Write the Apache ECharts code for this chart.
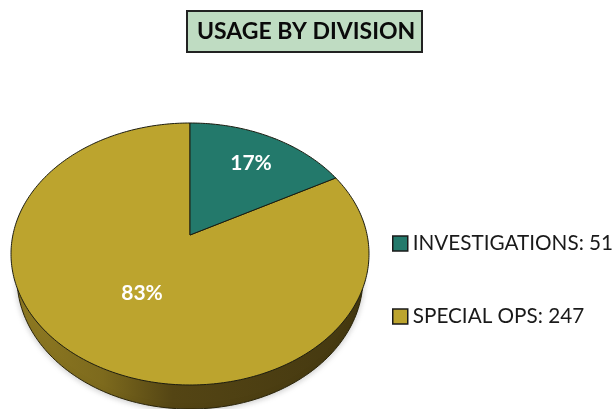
<!DOCTYPE html>
<html><head><meta charset="utf-8">
<style>html,body{margin:0;padding:0;background:#fff}#c{width:615px;height:409px}</style>
<script src="https://cdn.jsdelivr.net/npm/echarts@6/dist/echarts.min.js"></script>
</head><body><div id="c"></div>
<script>
const titleText = 'USAGE BY DIVISION';
const categories = ['INVESTIGATIONS', 'SPECIAL OPS'];
const values = [51, 247];
const colors = ['#23796B', '#BCA42E'];

const total = values.reduce((a, b) => a + b, 0);
const FONT = 'Lato, "Open Sans", sans-serif';
const cx = 190, cy = 254, rx = 179, ry = 131, tilt = -0.145, depth = 24;

// project a pie angle (radians clockwise from top) on to the tilted face
function project(theta) {
  const u = Math.sin(theta), v = -Math.cos(theta);
  const d = 1 + tilt * v;
  return [cx + rx * u * Math.sqrt(1 - tilt * tilt) / d, cy + ry * (v + tilt) / d];
}
function slicePoints(a0, a1) {
  const pts = [[cx, cy + ry * tilt]];
  const n = Math.max(8, Math.round((a1 - a0) * 60));
  for (let i = 0; i <= n; i++) pts.push(project(a0 + (a1 - a0) * i / n));
  return pts;
}
function wallPoints() {
  const pts = [], n = 240;
  for (let i = 0; i < n; i++) {
    const t = 2 * Math.PI * i / n;
    pts.push([cx + (rx - 6) * Math.cos(t), cy + depth + ry * Math.sin(t)]);
  }
  return pts;
}
function sliceRender(index, withWall, labelX, labelY) {
  return function (params, api) {
    const v = api.value(0);
    const before = values.slice(0, index).reduce((a, b) => a + b, 0);
    const a0 = before / total * 2 * Math.PI, a1 = a0 + v / total * 2 * Math.PI;
    const children = [];
    if (withWall) {
      children.push({
        type: 'polygon', shape: { points: wallPoints() },
        style: {
          fill: new echarts.graphic.LinearGradient(0, 0, 1, 0, [
            { offset: 0, color: '#8F7A22' },
            { offset: 0.25, color: '#7D6A1D' },
            { offset: 0.45, color: '#544514' },
            { offset: 1, color: '#443810' }
          ]),
          stroke: '#2A2408', lineWidth: 1,
          shadowBlur: 6, shadowColor: 'rgba(0,0,0,0.22)', shadowOffsetY: 1
        }
      });
    }
    children.push({
      type: 'polygon', shape: { points: slicePoints(a0, a1) },
      style: { fill: colors[index], stroke: '#1c1c10', lineWidth: 1, lineJoin: 'round' }
    });
    children.push({
      type: 'text', x: labelX, y: labelY,
      style: {
        text: Math.round(v / total * 100) + '%', fill: '#fff',
        font: 'bold 21px ' + FONT, align: 'center', verticalAlign: 'middle'
      }
    });
    return { type: 'group', children };
  };
}

const chart = echarts.init(document.getElementById('c'), null, { renderer: 'canvas' });
chart.setOption({
  animation: false,
  title: {
    text: titleText, left: 187, top: 11,
    backgroundColor: '#BFDCC2', borderColor: '#222', borderWidth: 2,
    padding: [9, 7, 8, 10],
    textStyle: { fontFamily: FONT, fontWeight: 'bold', fontSize: 23, color: '#0a0a0a', lineHeight: 24 }
  },
  legend: {
    orient: 'vertical', left: 392, top: 233, padding: 0, itemWidth: 15, itemHeight: 15, itemGap: 52,
    data: categories, icon: 'rect', selectedMode: false,
    formatter: name => name + ': ' + values[categories.indexOf(name)],
    itemStyle: { borderColor: '#1a1a1a', borderWidth: 1.5 },
    textStyle: { fontFamily: FONT, fontSize: 20.7, color: '#1a1a1a', padding: [0, 0, 0, 0] }
  },
  series: [
    { type: 'custom', name: categories[1], coordinateSystem: 'none', itemStyle: { color: colors[1] },
      data: [[values[1]]], renderItem: sliceRender(1, true, 142, 293), silent: true },
    { type: 'custom', name: categories[0], coordinateSystem: 'none', itemStyle: { color: colors[0] },
      data: [[values[0]]], renderItem: sliceRender(0, false, 251, 163), silent: true }
  ]
});
</script></body></html>
